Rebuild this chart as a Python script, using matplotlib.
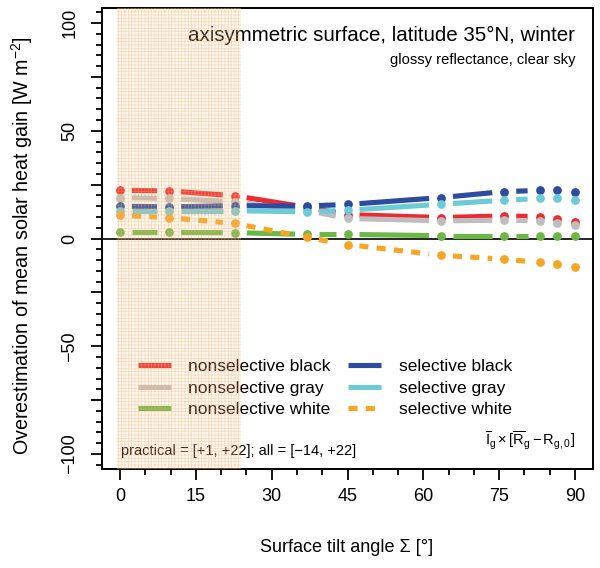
import numpy as np
import matplotlib
matplotlib.use('Agg')
import matplotlib.pyplot as plt
from matplotlib.lines import Line2D

plt.rcParams['font.family'] = ['Liberation Sans', 'DejaVu Sans']
plt.rcParams['mathtext.fontset'] = 'custom'
plt.rcParams['mathtext.rm'] = 'Liberation Sans'
plt.rcParams['mathtext.it'] = 'Liberation Sans'
plt.rcParams['mathtext.default'] = 'regular'
plt.rcParams['lines.scale_dashes'] = False
plt.rcParams['hatch.linewidth'] = 0.5

# tilt angles (deg) where the model was evaluated
tilt = [0, 9.7, 22.7, 37, 45, 63.5, 76, 83, 86.5, 90]

# overestimation of mean solar heat gain (W m-2)
nonsel_black = [22.4, 22.1, 19.8, 14.5, 11.1, 9.7, 10.5, 10.1, 9.0, 7.8]
nonsel_gray = [19.0, 18.6, 17.0, 13.0, 9.3, 8.2, 8.5, 8.2, 7.4, 6.2]
nonsel_white = [2.8, 2.8, 2.7, 1.9, 1.9, 1.3, 1.3, 1.3, 1.3, 1.3]
sel_black = [15.0, 14.7, 15.2, 15.1, 15.8, 19.0, 21.8, 22.3, 22.3, 21.8]
sel_gray = [12.9, 12.9, 12.9, 12.4, 13.1, 15.9, 17.8, 18.6, 18.6, 18.0]
sel_white = [10.8, 9.7, 7.0, 0.5, -2.8, -7.8, -9.6, -11.1, -11.9, -13.4]

series = [
    ('nonselective black', nonsel_black, '#ee2a30', '-'),
    ('nonselective gray', nonsel_gray, '#bebebe', '-'),
    ('nonselective white', nonsel_white, '#6cb846', '-'),
    ('selective black', sel_black, '#2d4c9f', '-'),
    ('selective gray', sel_gray, '#6dcbd8', '-'),
    ('selective white', sel_white, '#f6a623', '--'),
]

practical = (-0.5, 24)

fig = plt.figure(figsize=(6, 5.68), dpi=100)
ax = fig.add_axes([101.8 / 600, 99 / 568, 491.4 / 600, 461 / 568])
ax.set_xlim(-3.6, 93.6)
ax.set_ylim(-107, 107)

LW = 3.7


def gapped(ax, xs, ys, gap=12):
    # like R type="b": line segments stop short of each point
    tr = ax.transData
    pts = tr.transform(np.column_stack([xs, ys]))
    segs = []
    for p0, p1 in zip(pts[:-1], pts[1:]):
        d = p1 - p0
        n = np.hypot(*d)
        if n <= 2 * gap:
            continue
        u = d / n
        a = tr.inverted().transform(p0 + u * gap)
        b = tr.inverted().transform(p1 - u * gap)
        segs.append((a, b))
    return segs


for name, vals, col, ls in series:
    for a, b in gapped(ax, tilt, vals):
        ln, = ax.plot([a[0], b[0]], [a[1], b[1]], color=col, lw=LW,
                      solid_capstyle='butt', dash_capstyle='butt', zorder=3)
        if ls == '--':
            ln.set_dashes((6.5, 6))
    ax.plot(tilt, vals, 'o', color=col, ms=6.3, mec='none', zorder=3)

ax.axhline(0, color='black', lw=1.2, zorder=2)

ax.axvspan(practical[0], practical[1], facecolor=(1, 0.85, 0.7, 0.15),
           edgecolor=(0.97, 0.65, 0.35, 0.42), hatch='+++++', lw=0, zorder=6)

# axes and ticks
ax.set_xticks(np.arange(0, 91, 15))
ax.set_xticks(np.arange(0, 91, 5), minor=True)
ax.set_yticks(np.arange(-100, 101, 25))
ax.set_yticklabels(['\u2212100', '', '\u221250', '', '0', '', '50', '', '100'])
ax.set_yticks(np.arange(-105, 106, 5), minor=True)
ax.tick_params(which='major', direction='out', length=8, width=1.3, labelsize=13)
ax.tick_params(which='minor', direction='out', length=4.2, width=1.3)
ax.tick_params(axis='x', pad=6)
ax.tick_params(axis='y', pad=9, labelrotation=90)
plt.setp(ax.get_yticklabels(), va='center')
for s in ax.spines.values():
    s.set_linewidth(1.4)

fig.text(22 / 600, 1 - 246 / 568, 'Overestimation of mean solar heat gain [W m$^{-2}$]',
         rotation=90, ha='center', va='center', fontsize=14.2)
fig.text(347 / 600, 1 - 548 / 568, 'Surface tilt angle \u03a3 [\u00b0]',
         ha='center', va='center', fontsize=13)

ax.text(0.963, 0.941, 'axisymmetric surface, latitude 35\u00b0N, winter',
        transform=ax.transAxes, ha='right', va='center', fontsize=14.8)
ax.text(0.963, 0.887, 'glossy reflectance, clear sky',
        transform=ax.transAxes, ha='right', va='center', fontsize=10.6)
ax.text(0.04, 0.04, 'practical = [+1, +22]; all = [\u221214, +22]',
        transform=ax.transAxes, ha='left', va='center', fontsize=10.5)
ax.text(0.963, 0.063, r'$\overline{I}_g \times [\overline{R}_g - R_{g,0}]$',
        transform=ax.transAxes, ha='right', va='center', fontsize=10.5)

handles = []
for name, vals, col, ls in series:
    h = Line2D([], [], color=col, lw=LW, solid_capstyle='butt', dash_capstyle='butt')
    if ls == '--':
        h.set_dashes((6.5, 6))
    handles.append(h)
ax.legend(handles, [s[0] for s in series], ncol=2, frameon=False, fontsize=12.5,
          loc='upper left', bbox_to_anchor=(0.0737, 0.2385), borderaxespad=0,
          borderpad=0, handlelength=1.9, handletextpad=1.0, columnspacing=1.0,
          labelspacing=0.36)

fig.savefig('out.png', dpi=100)
